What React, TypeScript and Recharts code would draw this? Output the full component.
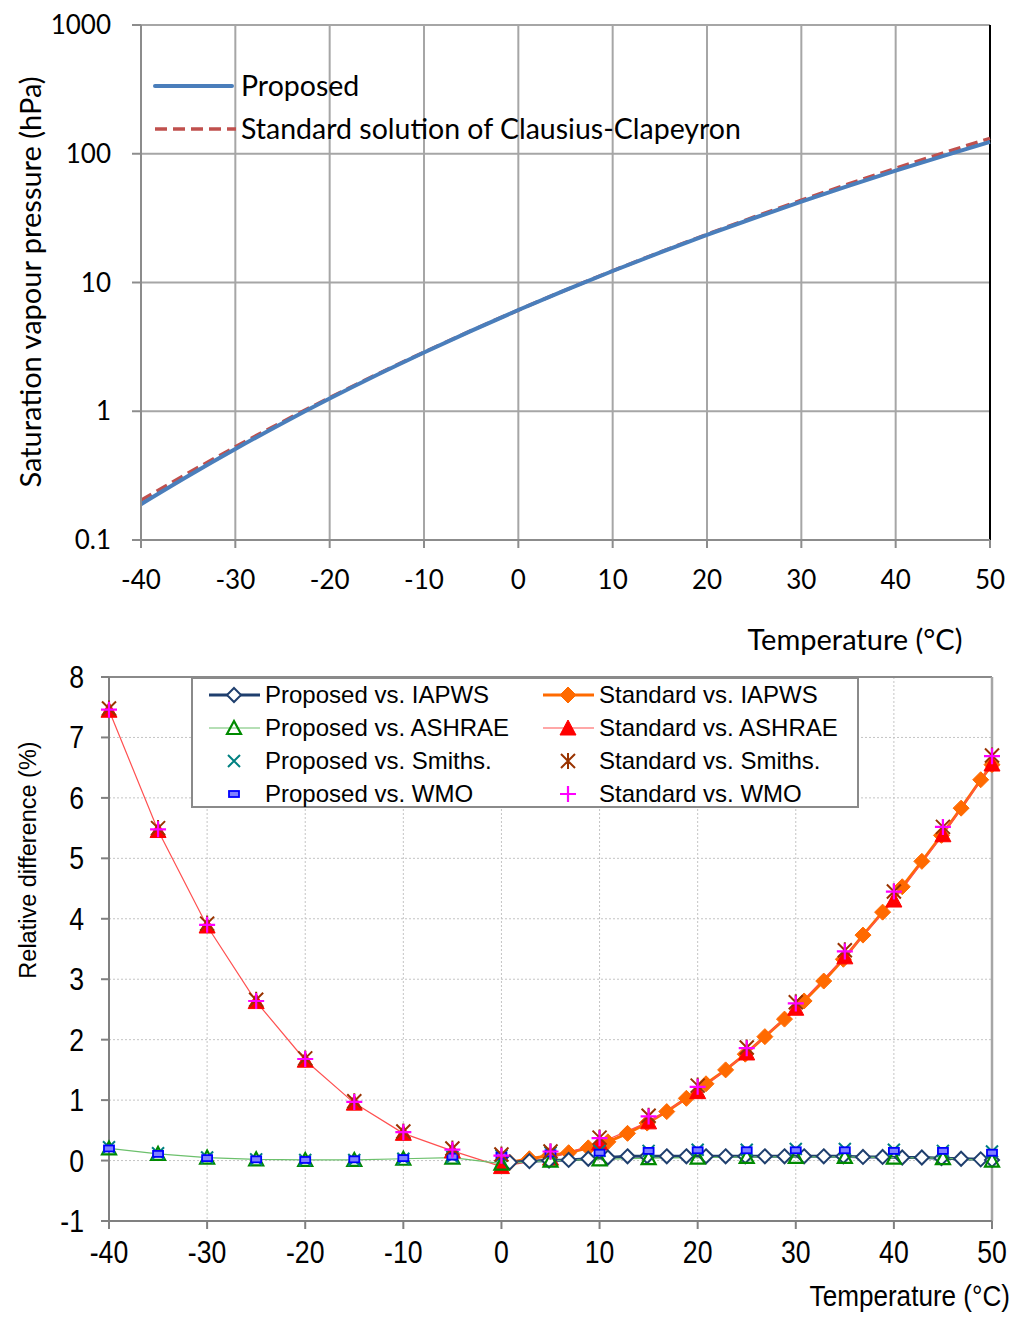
import React from "react";
import { CartesianGrid, Line, LineChart, ReferenceLine, XAxis, YAxis } from "recharts";

// top panel: saturation vapour pressure (hPa), every 5 °C
const temps = [-40, -35, -30, -25, -20, -15, -10, -5, 0, 5, 10, 15, 20, 25, 30, 35, 40, 45, 50];
const proposedHpa = [0.1897, 0.3139, 0.5088, 0.807, 1.254, 1.9118, 2.8627, 4.2148, 6.1121, 8.7247, 12.281, 17.056, 23.388, 31.69, 42.467, 56.286, 73.844, 95.944, 123.52];
const standardHpa = [0.2038, 0.331, 0.5286, 0.8282, 1.2749, 1.93, 2.876, 4.222, 6.109, 8.734, 12.318, 17.172, 23.657, 32.254, 43.55, 58.2, 77.056, 101.14, 131.67];

const xTicks = [-40, -30, -20, -10, 0, 10, 20, 30, 40, 50];
const logTicks = [0.1, 1, 10, 100, 1000];
const diffTicks = [-1, 0, 1, 2, 3, 4, 5, 6, 7, 8];

// bottom panel: relative difference (%)
const tempsIapws = [0.85, 2.85, 4.85, 6.85, 8.85, 10.85, 12.85, 14.85, 16.85, 18.85, 20.85, 22.85, 24.85, 26.85, 28.85, 30.85, 32.85, 34.85, 36.85, 38.85, 40.85, 42.85, 44.85, 46.85, 48.85, 50];
const propIapws = [-0.03, -0.01, 0.0, 0.01, 0.03, 0.05, 0.07, 0.07, 0.07, 0.07, 0.07, 0.07, 0.07, 0.07, 0.07, 0.07, 0.07, 0.07, 0.06, 0.06, 0.05, 0.05, 0.04, 0.03, 0.02, 0.01];
const stdIapws = [-0.03, 0.03, 0.08, 0.13, 0.21, 0.31, 0.45, 0.62, 0.81, 1.03, 1.27, 1.5, 1.76, 2.05, 2.34, 2.64, 2.97, 3.33, 3.73, 4.11, 4.53, 4.95, 5.38, 5.83, 6.3, 6.55];

const propAshrae = [0.2, 0.11, 0.05, 0.02, 0.01, 0.01, 0.03, 0.05, -0.05, 0.0, 0.02, 0.04, 0.05, 0.06, 0.06, 0.06, 0.05, 0.04, 0.0];
const propSmiths = [0.22, 0.12, 0.05, 0.02, 0.01, 0.01, 0.03, 0.06, 0.08, 0.13, 0.16, 0.16, 0.18, 0.18, 0.19, 0.19, 0.18, 0.16, 0.15];
const propWmo = [0.2, 0.11, 0.04, 0.02, 0.01, 0.02, 0.04, 0.065, 0.08, 0.12, 0.13, 0.16, 0.17, 0.17, 0.17, 0.17, 0.16, 0.16, 0.13];
const stdAshrae = [7.45, 5.46, 3.88, 2.63, 1.66, 0.95, 0.45, 0.16, -0.1, 0.04, 0.29, 0.64, 1.14, 1.78, 2.52, 3.37, 4.31, 5.39, 6.56];
const stdSmiths = [7.48, 5.5, 3.92, 2.66, 1.69, 0.98, 0.48, 0.2, 0.1, 0.15, 0.38, 0.74, 1.24, 1.87, 2.62, 3.48, 4.45, 5.52, 6.7];
const stdWmo = [7.46, 5.48, 3.9, 2.64, 1.68, 0.97, 0.47, 0.18, 0.08, 0.15, 0.37, 0.73, 1.22, 1.86, 2.6, 3.46, 4.45, 5.52, 6.69];

const topData = temps.map((t, i) => ({ t, proposed: proposedHpa[i], standard: standardHpa[i] }));
const pairs = (xs: number[], ys: number[]) => xs.map((t, i) => ({ t, v: ys[i] }));

const C = {
  navy: "#1F3F6E",
  orange: "#FF6A00",
  green: "#008A00",
  greenLine: "#6CC06C",
  teal: "#008080",
  blue: "#0000FF",
  red: "#FF0000",
  redLine: "#FF5050",
  brown: "#993300",
  magenta: "#FF00FF",
};

const CALIBRI = "Lato, 'Open Sans', sans-serif";
const ARIAL = "'Liberation Sans', Arial, sans-serif";

type M = (cx: number, cy: number) => React.ReactNode;
const openDiamond: M = (cx, cy) => (
  <path d={`M${cx} ${cy - 7}L${cx + 7} ${cy}L${cx} ${cy + 7}L${cx - 7} ${cy}Z`} fill="#fff" stroke={C.navy} strokeWidth={2} />
);
const fullDiamond: M = (cx, cy) => (
  <path d={`M${cx} ${cy - 8}L${cx + 8} ${cy}L${cx} ${cy + 8}L${cx - 8} ${cy}Z`} fill={C.orange} stroke={C.orange} strokeWidth={1} />
);
const openTri: M = (cx, cy) => (
  <path d={`M${cx} ${cy - 7}L${cx + 7} ${cy + 6}L${cx - 7} ${cy + 6}Z`} fill="none" stroke={C.green} strokeWidth={2.2} />
);
const fullTri: M = (cx, cy) => (
  <path d={`M${cx} ${cy - 8}L${cx + 8} ${cy + 7}L${cx - 8} ${cy + 7}Z`} fill={C.red} stroke={C.red} strokeWidth={1} />
);
const cross: M = (cx, cy) => (
  <path d={`M${cx - 6} ${cy - 6}L${cx + 6} ${cy + 6}M${cx + 6} ${cy - 6}L${cx - 6} ${cy + 6}`} stroke={C.teal} strokeWidth={2} />
);
const dash: M = (cx, cy) => (
  <rect x={cx - 5} y={cy - 3} width={10} height={6} fill="#8080ff" stroke={C.blue} strokeWidth={1.8} />
);
const star: M = (cx, cy) => (
  <path d={`M${cx - 7} ${cy - 7}L${cx + 7} ${cy + 7}M${cx + 7} ${cy - 7}L${cx - 7} ${cy + 7}M${cx} ${cy - 8}L${cx} ${cy + 8}`} stroke={C.brown} strokeWidth={2} />
);
const plus: M = (cx, cy) => (
  <path d={`M${cx - 8} ${cy}L${cx + 8} ${cy}M${cx} ${cy - 8}L${cx} ${cy + 8}`} stroke={C.magenta} strokeWidth={2.2} />
);

const dotOf = (m: M) => (p: any) => (
  <g key={`d-${p.index}`}>{p.cx != null && p.cy != null ? m(p.cx, p.cy) : null}</g>
);

// condensed Arial-like tick text for the lower panel
const narrowTick = (axis: "x" | "y") => (p: any) => (
  <text
    transform={`translate(${p.x},${p.y}) scale(0.86,1)`}
    textAnchor={axis === "x" ? "middle" : "end"}
    dy={axis === "x" ? "0.71em" : "0.355em"}
    fontFamily={ARIAL}
    fontSize={31}
    fill="#000"
  >
    {p.payload.value}
  </text>
);

const legendItems = [
  { label: "Proposed vs. IAPWS", color: C.navy, width: 3, marker: openDiamond },
  { label: "Standard vs. IAPWS", color: C.orange, width: 3, marker: fullDiamond },
  { label: "Proposed vs. ASHRAE", color: C.greenLine, width: 1.2, marker: openTri },
  { label: "Standard vs. ASHRAE", color: C.redLine, width: 1.2, marker: fullTri },
  { label: "Proposed vs. Smiths.", color: "none", width: 0, marker: cross },
  { label: "Standard vs. Smiths.", color: "none", width: 0, marker: star },
  { label: "Proposed vs. WMO", color: "none", width: 0, marker: dash },
  { label: "Standard vs. WMO", color: "none", width: 0, marker: plus },
];

function DiffLegend() {
  return (
    <div
      style={{
        position: "absolute",
        left: 191,
        top: 677,
        width: 664,
        height: 127,
        background: "#fff",
        border: "2px solid #8a8a8a",
        display: "grid",
        gridTemplateColumns: "334px 330px",
        gridAutoRows: "33px",
      }}
    >
      {legendItems.map((it) => (
        <div key={it.label} style={{ display: "flex", alignItems: "center", height: 31 }}>
          <svg width={72} height={24} style={{ flex: "none" }}>
            <line x1={16} x2={67} y1={12} y2={12} stroke={it.color} strokeWidth={it.width} />
            {it.marker(41, 12)}
          </svg>
          <span style={{ fontFamily: ARIAL, fontSize: 24, color: "#000", whiteSpace: "nowrap" }}>{it.label}</span>
        </div>
      ))}
    </div>
  );
}

export default function App() {
  return (
    <div style={{ position: "absolute", left: 0, top: 0, width: 1024, height: 1324, background: "#fff" }}>
      {/* top: vapour pressure */}
      <div style={{ position: "absolute", left: 0, top: 0 }}>
        <LineChart width={1024} height={600} data={topData} margin={{ top: 25, right: 34, bottom: 0, left: 0 }}>
          <CartesianGrid stroke="#a6a6a6" strokeWidth={2} />
          <XAxis
            dataKey="t"
            type="number"
            domain={[-40, 50]}
            ticks={xTicks}
            height={60}
            stroke="#8c8c8c"
            strokeWidth={2}
            tickSize={8}
            tickMargin={23}
            tick={{ fill: "#000", fontSize: 26, fontFamily: CALIBRI }}
          />
          <YAxis
            type="number"
            scale="log"
            domain={[0.1, 1000]}
            ticks={logTicks}
            allowDataOverflow
            width={141}
            stroke="#8c8c8c"
            strokeWidth={2}
            tickSize={9}
            tickMargin={21}
            tick={{ fill: "#000", fontSize: 26, fontFamily: CALIBRI }}
          />
          <ReferenceLine x={50} stroke="#000" strokeWidth={2} />
          <Line dataKey="standard" type="monotone" stroke="#C0504D" strokeWidth={3.5} strokeDasharray="12 6" dot={false} isAnimationActive={false} />
          <Line dataKey="proposed" type="monotone" stroke="#4A7EBB" strokeWidth={4} dot={false} isAnimationActive={false} />
        </LineChart>
      </div>

      {/* bottom: relative difference */}
      <div style={{ position: "absolute", left: 0, top: 650 }}>
        <LineChart width={1024} height={620} margin={{ top: 27, right: 32, bottom: 0, left: 0 }}>
          <CartesianGrid stroke="#c4c4c4" strokeDasharray="2 2" />
          <XAxis
            dataKey="t"
            type="number"
            domain={[-40, 50]}
            ticks={xTicks}
            height={49}
            allowDuplicatedCategory={false}
            stroke="#808080"
            strokeWidth={2}
            tickSize={8}
            tickMargin={12}
            tick={narrowTick("x")}
          />
          <YAxis
            type="number"
            domain={[-1, 8]}
            ticks={diffTicks}
            width={109}
            stroke="#808080"
            strokeWidth={2}
            tickSize={8}
            tickMargin={17}
            tick={narrowTick("y")}
          />
          <ReferenceLine y={8} stroke="#8a8a8a" strokeWidth={2} />
          <ReferenceLine x={50} stroke="#a6a6a6" strokeWidth={2.5} />
          <Line data={pairs(tempsIapws, stdIapws)} dataKey="v" stroke={C.orange} strokeWidth={3} dot={dotOf(fullDiamond)} isAnimationActive={false} />
          <Line data={pairs(temps, stdAshrae)} dataKey="v" stroke={C.redLine} strokeWidth={1.2} dot={dotOf(fullTri)} isAnimationActive={false} />
          <Line data={pairs(tempsIapws, propIapws)} dataKey="v" stroke={C.navy} strokeWidth={3} dot={dotOf(openDiamond)} isAnimationActive={false} />
          <Line data={pairs(temps, propAshrae)} dataKey="v" stroke={C.greenLine} strokeWidth={1.2} dot={dotOf(openTri)} isAnimationActive={false} />
          <Line data={pairs(temps, propSmiths)} dataKey="v" stroke="none" dot={dotOf(cross)} isAnimationActive={false} />
          <Line data={pairs(temps, propWmo)} dataKey="v" stroke="none" dot={dotOf(dash)} isAnimationActive={false} />
          <Line data={pairs(temps, stdSmiths)} dataKey="v" stroke="none" dot={dotOf(star)} isAnimationActive={false} />
          <Line data={pairs(temps, stdWmo)} dataKey="v" stroke="none" dot={dotOf(plus)} isAnimationActive={false} />
        </LineChart>
      </div>

      {/* top legend and axis titles */}
      <svg width={1024} height={1324} style={{ position: "absolute", left: 0, top: 0, pointerEvents: "none" }}>
        <line x1={155} x2={232} y1={86} y2={86} stroke="#4A7EBB" strokeWidth={4} strokeLinecap="round" />
        <line x1={155} x2={236} y1={129} y2={129} stroke="#C0504D" strokeWidth={3.5} strokeDasharray="12 6" />
        <text x={241} y={85} dominantBaseline="central" fontFamily={CALIBRI} fontSize={28.5}>Proposed</text>
        <text x={241} y={128} dominantBaseline="central" fontFamily={CALIBRI} fontSize={28.5}>Standard solution of Clausius-Clapeyron</text>
        <text transform="rotate(-90 29 282)" x={29} y={282} textAnchor="middle" dominantBaseline="central" fontFamily={CALIBRI} fontSize={29}>
          Saturation vapour pressure (hPa)
        </text>
        <text x={855} y={638} textAnchor="middle" dominantBaseline="central" fontFamily={CALIBRI} fontSize={29}>
          Temperature (°C)
        </text>
        <text transform="rotate(-90 28 860)" x={28} y={860} textAnchor="middle" dominantBaseline="central" fontFamily={ARIAL} fontSize={23.5}>
          Relative difference (%)
        </text>
        <text transform="translate(1010,1296) scale(0.87,1)" textAnchor="end" dominantBaseline="central" fontFamily={ARIAL} fontSize={30}>
          Temperature (°C)
        </text>
      </svg>

      <DiffLegend />
    </div>
  );
}
